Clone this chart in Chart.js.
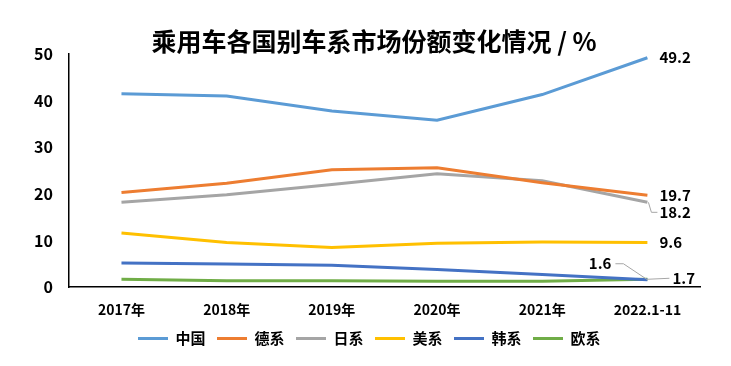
<!DOCTYPE html>
<html><head><meta charset="utf-8">
<script src="https://cdn.jsdelivr.net/npm/chart.js@4"></script>
<style>html,body{margin:0;padding:0;background:#fff}#wrap{width:731px;height:366px}</style>
</head><body><div id="wrap"><canvas id="c" width="731" height="366"></canvas></div>
<script>
const categories = ['2017年','2018年','2019年','2020年','2021年','2022.1-11'];
const seriesNames = ['中国','德系','日系','美系','韩系','欧系'];
const china  = [41.5, 41.0, 37.8, 35.8, 41.3, 49.2];
const german = [20.3, 22.3, 25.2, 25.6, 22.4, 19.7];
const japan  = [18.2, 19.8, 22.0, 24.3, 22.8, 18.2];
const usa    = [11.6, 9.6, 8.5, 9.4, 9.7, 9.6];
const korea  = [5.2, 5.0, 4.7, 3.8, 2.7, 1.6];
const europe = [1.7, 1.4, 1.4, 1.3, 1.3, 1.7];
const yTicks = [0, 10, 20, 30, 40, 50];

const colors = ['#5B9BD5','#ED7D31','#A5A5A5','#FFC000','#4472C4','#70AD47'];
const all = [china, german, japan, usa, korea, europe];
const FONT = '"Noto Sans CJK SC", "Noto Sans", sans-serif';

const endLabelCfg = [
  {dx: 12, dy: 0, leader: null},
  {dx: 12, dy: 0, leader: null},
  {dx: 12, dy: 10, leader: 'elbow'},
  {dx: 12, dy: 0, leader: null},
  {dx: -34, dy: -16, leader: 'left'},
  {dx: 25, dy: -1, leader: 'right'}
];

const endLabels = {
  id: 'endLabels',
  afterLayout(chart) {
    const lg = chart.legend;
    if (lg) { lg.top -= 5; lg.bottom -= 5; lg.left += 14; lg.right += 14; }
  },
  afterDatasetsDraw(chart) {
    const ctx = chart.ctx;
    ctx.save();
    ctx.font = 'bold 15px ' + FONT;
    ctx.fillStyle = '#000';
    ctx.textBaseline = 'middle';
    chart.data.datasets.forEach((ds, i) => {
      const meta = chart.getDatasetMeta(i);
      const last = meta.data[meta.data.length - 1];
      const v = ds.data[ds.data.length - 1];
      const cfg = endLabelCfg[i];
      const x = last.x, y = last.y;
      const txt = v.toFixed(1);
      ctx.strokeStyle = '#A6A6A6';
      ctx.lineWidth = 1;
      if (cfg.leader === 'elbow') {
        ctx.beginPath();
        ctx.moveTo(x + 1, y);
        ctx.lineTo(x + 4, y + cfg.dy);
        ctx.lineTo(x + cfg.dx - 2, y + cfg.dy);
        ctx.stroke();
        ctx.textAlign = 'left';
        ctx.fillText(txt, x + cfg.dx, y + cfg.dy);
      } else if (cfg.leader === 'left') {
        ctx.beginPath();
        ctx.moveTo(x, y);
        ctx.lineTo(x - 24, y + cfg.dy);
        ctx.lineTo(x + cfg.dx + 2, y + cfg.dy);
        ctx.stroke();
        ctx.textAlign = 'right';
        ctx.fillText(txt, x + cfg.dx - 2, y + cfg.dy);
      } else if (cfg.leader === 'right') {
        ctx.beginPath();
        ctx.moveTo(x, y);
        ctx.lineTo(x + cfg.dx - 3, y + cfg.dy);
        ctx.stroke();
        ctx.textAlign = 'left';
        ctx.fillText(txt, x + cfg.dx, y + cfg.dy);
      } else {
        ctx.textAlign = 'left';
        ctx.fillText(txt, x + cfg.dx, y + cfg.dy);
      }
    });
    ctx.restore();
  }
};

new Chart(document.getElementById('c'), {
  type: 'line',
  data: {
    labels: categories,
    datasets: all.map((d, i) => ({
      label: seriesNames[i],
      data: d,
      borderColor: colors[i],
      backgroundColor: colors[i],
      borderWidth: 3,
      pointRadius: 0,
      tension: 0,
      fill: false
    }))
  },
  options: {
    responsive: false,
    animation: false,
    layout: {padding: {left: 18, right: 31, top: 0, bottom: 5}},
    plugins: {
      title: {
        display: true,
        text: '\u2002\u2002\u2009乘用车各国别车系市场份额变化情况 / %',
        color: '#000',
        font: {family: FONT, size: 25, weight: 'bold'},
        padding: {top: 26, bottom: -2}
      },
      legend: {
        position: 'bottom',
        labels: {
          boxWidth: 30,
          boxHeight: 3,
          padding: 4,
          color: '#000',
          font: {family: FONT, size: 15, weight: 'bold'},
          generateLabels(chart) {
            return chart.data.datasets.map((ds, i) => ({
              text: ds.label + '\u2002',
              fillStyle: ds.borderColor,
              strokeStyle: ds.borderColor,
              lineWidth: 0,
              fontColor: '#000',
              hidden: false,
              datasetIndex: i
            }));
          }
        }
      },
      tooltip: {enabled: false}
    },
    scales: {
      x: {
        offset: true,
        grid: {display: false, drawTicks: false},
        border: {display: true, color: '#000', width: 1.5},
        ticks: {color: '#000', padding: 14, font: {family: FONT, size: 14, weight: 'bold'}}
      },
      y: {
        min: 0, max: 50,
        afterBuildTicks(axis) { axis.ticks = yTicks.map(v => ({value: v})); },
        grid: {display: false, drawTicks: false},
        border: {display: true, color: '#000', width: 1.5},
        ticks: {color: '#000', padding: 16, font: {family: FONT, size: 16, weight: 'bold'}}
      }
    }
  },
  plugins: [endLabels]
});
</script></body></html>
